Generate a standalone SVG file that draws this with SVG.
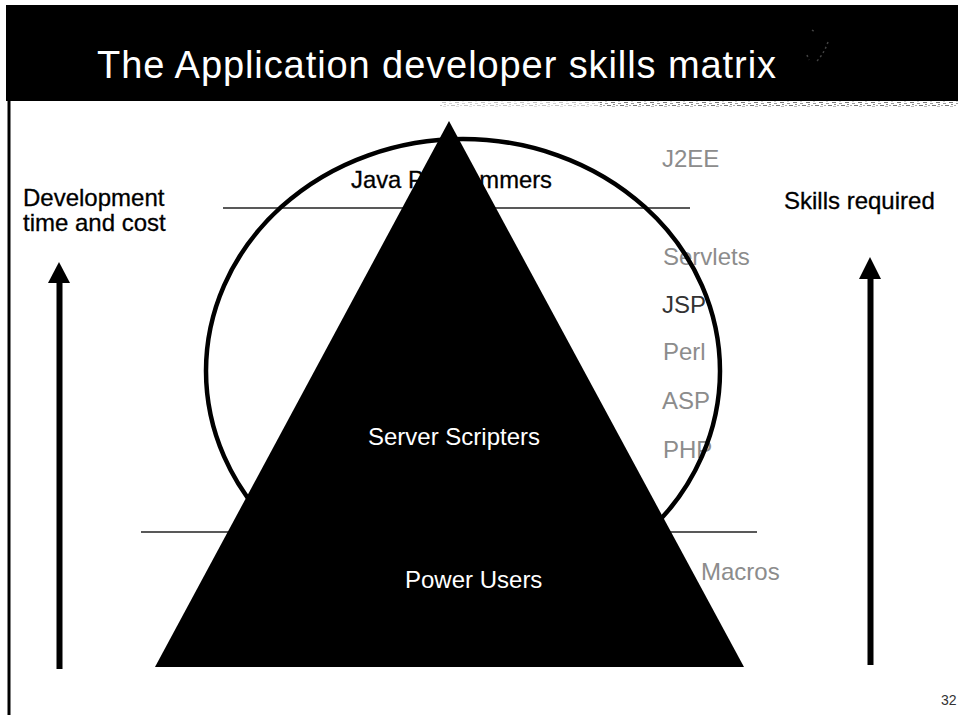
<svg xmlns="http://www.w3.org/2000/svg" width="958" height="715" viewBox="0 0 958 715">
<style>
text{font-family:"Liberation Sans",Arial,sans-serif;font-size:24px}
.k{fill:#000;stroke:#000;stroke-width:0.300}
.w{fill:#fff}
.g{fill:#8c8c8c}
.rule{stroke:#222;stroke-width:1.500;fill:none}
.shaft{stroke:#000;stroke-width:6;fill:none}
</style>
<defs>
<pattern id="noise" width="13" height="6" patternUnits="userSpaceOnUse">
<rect width="13" height="6" fill="#fff"/>
<rect x="0" y="0" width="4" height="1" fill="#777"/><rect x="7" y="1" width="3" height="1" fill="#999"/>
<rect x="2" y="2" width="2" height="1" fill="#888"/><rect x="9" y="3" width="4" height="1" fill="#777"/>
<rect x="5" y="3" width="2" height="1" fill="#aaa"/><rect x="1" y="4" width="3" height="1" fill="#bbb"/>
<rect x="7" y="5" width="2" height="1" fill="#ccc"/>
</pattern>
</defs>
<rect width="958" height="715" fill="#fff"/>
<g id="header">
<rect x="6" y="5" width="952" height="96" fill="#000"/>
<rect x="7.500" y="100" width="3" height="615" fill="#000"/>
<rect x="600" y="101" width="358" height="6" fill="url(#noise)"/>
<rect x="440" y="101" width="160" height="6" fill="url(#noise)" opacity="0.45"/>
<text x="97" y="78" class="w" style="font-size:38px" textLength="679" lengthAdjust="spacing">The Application developer skills matrix</text>
<path d="M828 42c-3 8-6 14-12 20M812 30l3 2M807 55l2 5" fill="none" stroke="#444" stroke-width="1.500" stroke-dasharray="2 3"/>
</g>
<g id="tech-labels">
<text x="662" y="167" class="g">J2EE</text>
<text x="663" y="265" class="g">Servlets</text>
<text x="662" y="313" fill="#333">JSP</text>
<text x="663" y="360" class="g">Perl</text>
<text x="662" y="409" class="g">ASP</text>
<text x="663" y="458" class="g">PHP</text>
<text x="701" y="580" class="g">Macros</text>
</g>
<g id="connectors">
<line class="rule" x1="223" y1="208" x2="690" y2="208"/>
<line class="rule" x1="141" y1="532" x2="757" y2="532"/>
<line class="shaft" x1="59.500" y1="280" x2="59.500" y2="669"/>
<polygon points="59,262 70,283 48,283" fill="#000"/>
<line class="shaft" x1="870.500" y1="276" x2="870.500" y2="665"/>
<polygon points="870,257 881,279 859,279" fill="#000"/>
</g>
<g id="java-programmers">
<ellipse cx="463" cy="371" rx="257" ry="232" fill="none" stroke="#000" stroke-width="4.500"/>
<text x="351" y="188" class="k" style="font-size:23.800px">Java Programmers</text>
</g>
<g id="pyramid">
<polygon points="449,121 744,667 155,667" fill="#000"/>
<text x="368" y="445" class="w">Server Scripters</text>
<text x="405" y="588" class="w">Power Users</text>
</g>
<g id="axis-labels">
<text x="23" y="206" class="k">Development</text>
<text x="23" y="231" class="k">time and cost</text>
<text x="784" y="209" class="k">Skills required</text>
</g>
<text x="941" y="705" style="font-size:14px" fill="#333">32</text>
</svg>
